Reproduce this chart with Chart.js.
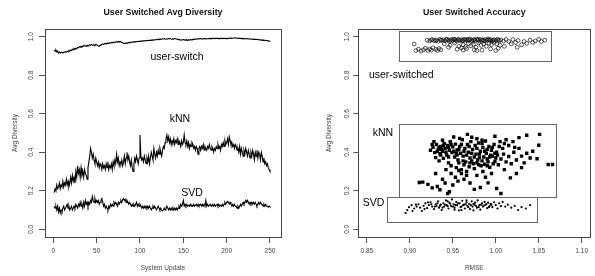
<!DOCTYPE html>
<html><head><meta charset="utf-8">
<script src="https://cdn.jsdelivr.net/npm/chart.js@4/dist/chart.umd.min.js"></script>
<style>
html,body{margin:0;padding:0;background:#fff;}
#wrap{position:relative;width:595px;height:276px;overflow:hidden;background:#fff;}
.c{position:absolute;top:0;height:276px;}
#c1{left:0;width:298px;} #c2{left:298px;width:297px;}
</style></head><body>
<div id="wrap"><div class="c" id="c1"><canvas id="a"></canvas></div><div class="c" id="c2"><canvas id="b"></canvas></div></div>
<script>
// ---------- Data: left panel (Avg Diversity per system update) ----------
const systemUpdates = Array.from({length: 250}, (_, i) => i + 1);
const userSwitchLine = [
0.93,0.925,0.93,0.92,0.925,0.915,0.92,0.915,0.92,0.918,
0.915,0.92,0.918,0.922,0.92,0.925,0.922,0.928,0.925,0.93,
0.928,0.935,0.932,0.938,0.935,0.94,0.937,0.945,0.942,0.948,
0.945,0.95,0.947,0.952,0.95,0.955,0.952,0.95,0.955,0.952,
0.955,0.958,0.955,0.96,0.957,0.955,0.958,0.955,0.96,0.958,
0.955,0.952,0.95,0.955,0.958,0.96,0.962,0.96,0.963,0.965,
0.962,0.965,0.967,0.965,0.968,0.966,0.97,0.968,0.97,0.972,
0.97,0.972,0.975,0.972,0.974,0.972,0.975,0.973,0.97,0.968,
0.966,0.965,0.967,0.965,0.968,0.967,0.97,0.968,0.97,0.972,
0.971,0.973,0.972,0.974,0.973,0.975,0.974,0.976,0.975,0.977,
0.976,0.978,0.977,0.979,0.978,0.98,0.979,0.98,0.979,0.981,
0.98,0.982,0.981,0.983,0.982,0.984,0.983,0.985,0.984,0.986,
0.985,0.987,0.986,0.988,0.987,0.989,0.988,0.99,0.988,0.987,
0.989,0.988,0.99,0.989,0.99,0.988,0.987,0.989,0.988,0.99,
0.989,0.988,0.986,0.984,0.986,0.984,0.982,0.984,0.983,0.985,
0.984,0.982,0.985,0.983,0.98,0.984,0.982,0.985,0.983,0.986,
0.985,0.987,0.986,0.988,0.987,0.989,0.988,0.99,0.989,0.99,
0.988,0.989,0.988,0.99,0.989,0.99,0.988,0.989,0.99,0.991,
0.99,0.991,0.99,0.992,0.991,0.99,0.991,0.992,0.991,0.99,
0.991,0.99,0.992,0.991,0.99,0.991,0.992,0.991,0.99,0.991,
0.99,0.991,0.992,0.993,0.992,0.993,0.992,0.993,0.994,0.993,
0.992,0.993,0.992,0.991,0.992,0.991,0.99,0.991,0.99,0.989,
0.99,0.989,0.99,0.989,0.988,0.989,0.988,0.987,0.988,0.987,
0.986,0.987,0.986,0.985,0.986,0.984,0.985,0.983,0.984,0.982,
0.983,0.981,0.982,0.98,0.981,0.979,0.98,0.978,0.977,0.978];
const knnLine = [
0.19,0.21,0.20,0.23,0.21,0.22,0.24,0.21,0.23,0.22,
0.25,0.22,0.24,0.23,0.26,0.23,0.25,0.22,0.24,0.27,
0.24,0.28,0.25,0.27,0.24,0.30,0.27,0.33,0.29,0.31,
0.27,0.32,0.28,0.30,0.27,0.31,0.29,0.28,0.26,0.32,
0.35,0.38,0.42,0.40,0.37,0.39,0.36,0.34,0.37,0.35,
0.33,0.35,0.32,0.34,0.33,0.31,0.34,0.32,0.33,0.31,
0.34,0.32,0.35,0.31,0.33,0.32,0.34,0.31,0.35,0.33,
0.36,0.34,0.39,0.35,0.37,0.33,0.35,0.34,0.36,0.33,
0.35,0.38,0.34,0.37,0.40,0.36,0.38,0.35,0.33,0.36,
0.32,0.30,0.34,0.37,0.35,0.38,0.36,0.34,0.37,0.49,
0.38,0.36,0.37,0.35,0.38,0.36,0.34,0.37,0.35,0.38,
0.34,0.37,0.40,0.38,0.36,0.42,0.39,0.37,0.40,0.38,
0.41,0.39,0.42,0.40,0.38,0.41,0.43,0.42,0.45,0.47,
0.49,0.46,0.48,0.45,0.47,0.44,0.46,0.45,0.47,0.44,
0.46,0.45,0.47,0.44,0.46,0.45,0.43,0.46,0.44,0.45,
0.49,0.45,0.44,0.46,0.43,0.45,0.42,0.44,0.43,0.45,
0.44,0.42,0.43,0.41,0.43,0.42,0.39,0.42,0.43,0.41,
0.43,0.42,0.44,0.41,0.43,0.42,0.41,0.43,0.42,0.44,
0.42,0.41,0.43,0.42,0.40,0.42,0.41,0.43,0.42,0.44,
0.42,0.43,0.41,0.44,0.43,0.45,0.43,0.46,0.44,0.45,
0.47,0.44,0.48,0.46,0.44,0.45,0.43,0.44,0.42,0.44,
0.43,0.41,0.42,0.40,0.43,0.39,0.42,0.40,0.38,0.41,
0.39,0.42,0.40,0.38,0.41,0.39,0.37,0.40,0.38,0.41,
0.39,0.36,0.40,0.38,0.41,0.37,0.40,0.39,0.36,0.40,
0.38,0.35,0.37,0.34,0.35,0.33,0.34,0.32,0.31,0.30];
const svdLine = [
0.12,0.11,0.12,0.10,0.12,0.09,0.11,0.085,0.10,0.09,
0.11,0.12,0.10,0.11,0.12,0.13,0.11,0.12,0.10,0.11,
0.12,0.10,0.11,0.12,0.11,0.13,0.12,0.11,0.13,0.12,
0.14,0.12,0.13,0.11,0.14,0.12,0.15,0.13,0.14,0.12,
0.14,0.13,0.15,0.14,0.17,0.15,0.14,0.16,0.14,0.15,
0.14,0.15,0.13,0.14,0.15,0.16,0.14,0.12,0.13,0.11,
0.12,0.11,0.10,0.12,0.11,0.13,0.12,0.13,0.12,0.14,
0.13,0.14,0.13,0.12,0.14,0.13,0.14,0.15,0.14,0.155,
0.16,0.15,0.155,0.14,0.15,0.14,0.13,0.14,0.13,0.12,
0.13,0.12,0.13,0.12,0.13,0.14,0.12,0.13,0.12,0.13,
0.12,0.11,0.12,0.11,0.12,0.11,0.12,0.11,0.12,0.11,
0.12,0.11,0.10,0.11,0.12,0.11,0.12,0.11,0.10,0.11,
0.12,0.11,0.10,0.11,0.10,0.095,0.10,0.11,0.10,0.11,
0.12,0.11,0.10,0.11,0.10,0.11,0.10,0.11,0.10,0.11,
0.10,0.11,0.10,0.11,0.12,0.11,0.13,0.12,0.13,0.15,
0.12,0.13,0.12,0.13,0.12,0.125,0.12,0.13,0.12,0.125,
0.12,0.13,0.12,0.125,0.13,0.12,0.13,0.12,0.125,0.13,
0.12,0.13,0.12,0.13,0.12,0.15,0.12,0.13,0.12,0.125,
0.13,0.12,0.125,0.13,0.12,0.13,0.12,0.125,0.13,0.12,
0.13,0.12,0.125,0.12,0.13,0.12,0.13,0.14,0.13,0.14,
0.145,0.14,0.13,0.14,0.13,0.12,0.13,0.12,0.13,0.12,
0.12,0.11,0.12,0.11,0.12,0.13,0.12,0.13,0.14,0.13,
0.14,0.15,0.14,0.15,0.14,0.13,0.14,0.13,0.14,0.13,
0.14,0.13,0.14,0.13,0.12,0.13,0.14,0.13,0.14,0.13,
0.13,0.12,0.13,0.12,0.13,0.12,0.12,0.115,0.12,0.115];

// ---------- Data: right panel (RMSE vs Avg Diversity) ----------
const userSwitchedPts = [
[0.905,0.962],[0.907,0.928],[0.910,0.935],[0.913,0.925],[0.916,0.932],[0.918,0.940],[0.921,0.928],[0.923,0.936],[0.925,0.930],[0.927,0.942],[0.930,0.934],[0.932,0.928],[0.934,0.938],[0.936,0.932],
[0.920,0.982],[0.923,0.978],[0.926,0.985],[0.928,0.980],[0.931,0.983],[0.933,0.976],[0.935,0.986],[0.937,0.981],[0.939,0.984],[0.941,0.979],[0.943,0.987],[0.945,0.982],[0.946,0.975],[0.948,0.985],[0.950,0.980],[0.951,0.988],[0.953,0.983],[0.955,0.977],[0.956,0.986],[0.958,0.981],[0.960,0.984],[0.961,0.978],[0.963,0.987],[0.964,0.982],[0.966,0.985],[0.967,0.979],[0.969,0.983],[0.970,0.988],[0.972,0.981],[0.973,0.976],[0.975,0.985],[0.976,0.980],[0.978,0.987],[0.979,0.982],[0.981,0.978],[0.982,0.986],[0.984,0.981],[0.985,0.984],[0.987,0.977],[0.988,0.985],[0.990,0.982],[0.991,0.988],[0.993,0.980],[0.994,0.985],[0.996,0.978],[0.998,0.984],[1.000,0.981],[1.002,0.986],[1.004,0.979],[1.006,0.983],[1.009,0.977],[1.012,0.985],
[0.925,0.983],[0.930,0.979],[0.936,0.982],[0.942,0.984],[0.947,0.980],[0.952,0.985],[0.957,0.983],[0.962,0.980],[0.968,0.986],[0.974,0.983],[0.980,0.985],[0.986,0.980],[0.992,0.984],[0.997,0.982],[1.003,0.983],
[0.940,0.962],[0.947,0.955],[0.952,0.968],[0.957,0.950],[0.960,0.942],[0.962,0.958],[0.965,0.948],[0.968,0.965],[0.971,0.952],[0.974,0.960],[0.977,0.945],[0.980,0.968],[0.983,0.955],[0.986,0.962],[0.989,0.950],[0.992,0.965],[0.995,0.958],[0.998,0.970],[1.001,0.962],[1.005,0.955],[0.955,0.935],[0.962,0.930],[0.966,0.938],[0.975,0.932],[0.978,0.928],[0.984,0.930],[0.994,0.936],[1.000,0.928],[1.003,0.940],[0.945,0.945],
[1.015,0.975],[1.018,0.962],[1.020,0.985],[1.023,0.970],[1.026,0.980],[1.030,0.958],[1.033,0.975],[1.036,0.965],[1.040,0.982],[1.043,0.970],[1.046,0.978],[1.050,0.986],[1.053,0.975],[1.057,0.982],[1.010,0.950],[1.025,0.945]];
const knnPts = [
[0.924,0.410],[0.927,0.425],[0.929,0.398],[0.931,0.440],[0.933,0.415],[0.935,0.392],[0.936,0.430],[0.938,0.405],[0.940,0.445],[0.941,0.420],[0.943,0.385],[0.944,0.435],[0.946,0.410],[0.947,0.455],[0.949,0.398],[0.950,0.428],[0.952,0.375],[0.953,0.442],[0.955,0.412],[0.956,0.360],[0.958,0.430],[0.959,0.395],[0.961,0.465],[0.962,0.380],[0.964,0.420],[0.965,0.350],[0.967,0.440],[0.968,0.400],[0.970,0.370],[0.971,0.455],[0.973,0.415],[0.974,0.340],[0.976,0.435],[0.977,0.390],[0.979,0.360],[0.980,0.448],[0.982,0.405],[0.983,0.330],[0.985,0.425],[0.986,0.375],[0.988,0.458],[0.989,0.395],[0.991,0.350],[0.992,0.430],[0.994,0.385],[0.995,0.410],[0.997,0.340],[0.998,0.440],[1.000,0.370],[1.001,0.400],
[0.926,0.440],[0.928,0.455],[0.932,0.405],[0.934,0.425],[0.937,0.415],[0.939,0.435],[0.942,0.400],[0.945,0.425],[0.948,0.440],[0.951,0.405],[0.954,0.395],[0.957,0.415],[0.960,0.440],[0.963,0.405],[0.966,0.385],[0.969,0.430],[0.972,0.395],[0.975,0.375],[0.978,0.420],[0.981,0.390],[0.984,0.445],[0.987,0.405],[0.990,0.415],[0.993,0.375],[0.996,0.425],[0.999,0.395],[1.002,0.385],[1.004,0.430],[0.962,0.355],[0.970,0.345],[0.980,0.335],[0.990,0.330],[0.955,0.385],[0.945,0.375],[0.936,0.385],
[0.930,0.372],[0.934,0.355],[0.939,0.368],[0.945,0.345],[0.948,0.330],[0.954,0.320],[0.957,0.345],[0.960,0.310],[0.963,0.335],[0.966,0.300],[0.969,0.325],[0.972,0.355],[0.975,0.315],[0.978,0.345],[0.981,0.372],[0.984,0.355],[0.987,0.338],[0.990,0.365],[0.993,0.322],[0.996,0.380],[0.999,0.352],[1.003,0.335],[1.006,0.365],[1.009,0.390],[1.012,0.350],[1.015,0.378],[1.018,0.340],[1.021,0.400],[1.024,0.360],[1.027,0.420],[1.030,0.380],[1.033,0.345],[1.036,0.395],[1.040,0.370],[1.043,0.405],
[0.938,0.462],[0.951,0.479],[0.958,0.472],[0.967,0.493],[0.972,0.478],[0.978,0.470],[0.984,0.462],[0.999,0.483],[1.005,0.455],[1.010,0.445],[1.015,0.435],[1.020,0.455],[1.027,0.476],[1.036,0.488],[1.051,0.493],[1.050,0.436],[1.048,0.366],[1.061,0.336],[1.066,0.336],[1.022,0.425],[1.008,0.420],[1.012,0.465],
[0.911,0.243],[0.915,0.245],[0.921,0.233],[0.926,0.215],[0.930,0.290],[0.932,0.222],[0.935,0.205],[0.938,0.260],[0.941,0.240],[0.944,0.186],[0.946,0.195],[0.950,0.230],[0.953,0.270],[0.956,0.250],[0.960,0.290],[0.963,0.260],[0.966,0.280],[0.970,0.240],[0.975,0.207],[0.978,0.280],[0.982,0.217],[0.985,0.300],[0.988,0.270],[0.991,0.241],[0.995,0.290],[1.001,0.212],[1.006,0.186],[1.010,0.310],[1.017,0.267],[1.024,0.290],[1.030,0.320],[0.942,0.310],[0.948,0.290],[0.957,0.305]];
const svdPts = [
[0.895,0.085],[0.897,0.100],[0.899,0.115],[0.902,0.125],[0.905,0.108],[0.908,0.118],[0.910,0.130],[0.912,0.112],[0.914,0.095],[0.916,0.122],[0.918,0.135],[0.920,0.110],[0.922,0.125],[0.924,0.140],[0.926,0.118],[0.928,0.105],[0.930,0.130],[0.931,0.120],[0.933,0.145],[0.934,0.112],[0.936,0.128],[0.937,0.100],[0.939,0.135],[0.940,0.118],[0.942,0.150],[0.943,0.125],[0.945,0.108],[0.946,0.138],[0.948,0.120],[0.949,0.155],[0.951,0.130],[0.952,0.112],[0.954,0.142],[0.955,0.125],[0.957,0.098],[0.958,0.135],[0.960,0.118],[0.961,0.148],[0.963,0.128],[0.964,0.108],[0.966,0.140],[0.967,0.122],[0.969,0.132],[0.970,0.105],[0.972,0.145],[0.973,0.118],[0.975,0.128],[0.976,0.138],[0.978,0.112],[0.979,0.150],[0.981,0.125],[0.982,0.102],[0.984,0.135],[0.985,0.118],[0.987,0.142],[0.988,0.128],[0.990,0.110],[0.991,0.138],[0.993,0.122],[0.994,0.132],[0.996,0.115],[0.998,0.140],[1.000,0.125],[1.002,0.108],[1.004,0.135],[1.006,0.120],[1.008,0.142],[1.011,0.118],[1.014,0.128],[1.018,0.112],[1.022,0.122],[1.026,0.100],[1.030,0.115],[1.035,0.108],[1.040,0.125],
[0.925,0.130],[0.929,0.118],[0.932,0.135],[0.935,0.122],[0.938,0.112],[0.941,0.128],[0.944,0.120],[0.947,0.132],[0.950,0.118],[0.953,0.125],[0.956,0.135],[0.959,0.115],[0.962,0.125],[0.965,0.130],[0.968,0.115],[0.971,0.125],[0.974,0.132],[0.977,0.122],[0.980,0.115],[0.983,0.128],[0.986,0.122],[0.989,0.130],[0.992,0.115],[0.995,0.128],[0.944,0.145],[0.952,0.102],[0.960,0.100],[0.966,0.150],[0.974,0.098],[0.917,0.105],[0.921,0.140],[0.907,0.128],[0.903,0.095]];

// ---------- Tick labels ----------
const leftXTicks = [0, 50, 100, 150, 200, 250];
const rightXTicks = [0.85, 0.90, 0.95, 1.00, 1.05, 1.10];
const yTicks = [0.0, 0.2, 0.4, 0.6, 0.8, 1.0];

// ---------- Rendering ----------
const FONT = "'Liberation Sans', Arial, sans-serif";
Chart.defaults.font.family = FONT;
Chart.defaults.color = '#333';

function framePlugin(){ return {id:'frame', afterDraw(ch){
  const a = ch.chartArea, c = ch.ctx; c.save(); c.strokeStyle = '#444'; c.lineWidth = 1;
  c.strokeRect(Math.round(a.left)+0.5, Math.round(a.top)+0.5, Math.round(a.right-a.left), Math.round(a.bottom-a.top));
  c.restore(); }}; }

function notesPlugin(notes, boxes){ return {id:'notes', afterDatasetsDraw(ch){
  const c = ch.ctx, xs = ch.scales.x, ys = ch.scales.y; c.save();
  boxes.forEach(b => {
    const x0 = xs.getPixelForValue(b.x0), x1 = xs.getPixelForValue(b.x1);
    const y0 = ys.getPixelForValue(b.y1), y1 = ys.getPixelForValue(b.y0);
    c.strokeStyle = '#666'; c.lineWidth = 1;
    c.strokeRect(Math.round(x0)+0.5, Math.round(y0)+0.5, Math.round(x1-x0), Math.round(y1-y0));
  });
  c.fillStyle = '#000'; c.font = '10.5px ' + FONT; c.textAlign = 'center'; c.textBaseline = 'middle';
  notes.forEach(t => c.fillText(t.text, xs.getPixelForValue(t.x), ys.getPixelForValue(t.y)));
  c.restore(); }}; }

function makeScales(o){
  return {
    x: {type:'linear', min:o.xmin, max:o.xmax,
      afterBuildTicks: s => { s.ticks = o.xticks.map(v => ({value:v})); },
      afterFit: s => { s.height = 39; },
      grid: {drawOnChartArea:false, drawTicks:true, tickLength:6, color:'#555', tickColor:'#555'},
      border: {display:false},
      ticks: {font:{size:6.5}, padding:4.8, color:'#444', maxRotation:0, autoSkip:false, callback: o.xfmt},
      title: {display:true, text:o.xtitle, font:{size:6.5}, color:'#444', padding:{top:0, bottom:4.1}}},
    y: {type:'linear', min:-0.04, max:1.04,
      afterBuildTicks: s => { s.ticks = yTicks.map(v => ({value:v})); },
      afterFit: s => { s.width = o.yw; },
      grid: {drawOnChartArea:false, drawTicks:true, tickLength:o.ytl, color:'#555', tickColor:'#555'},
      border: {display:false},
      ticks: {font:{size:6.5}, padding:o.ypad, color:'#444', minRotation:90, maxRotation:90, crossAlign:'center', autoSkip:false, callback: v => Number(v).toFixed(1)},
      title: {display:true, text:'Avg Diversity', font:{size:6.5}, color:'#444', padding:{top:o.ytitle, bottom:0}}}
  };
}

const common = (title, padRight) => ({
  responsive:true, maintainAspectRatio:false, animation:false, devicePixelRatio:1,
  layout:{padding:{top:0, right:padRight, bottom:0, left:0}},
  plugins:{legend:{display:false}, tooltip:{enabled:false},
    title:{display:true, text:title, fullSize:false, color:'#111', font:{size:8.8, weight:'bold'}, padding:{top:7, bottom:11.4}}}
});

new Chart(document.getElementById('a'), {
  type:'line',
  data:{datasets:[
    {label:'user-switch', data: systemUpdates.map((u,i)=>({x:u, y:userSwitchLine[i]})), borderColor:'#000', borderWidth:1.1, pointRadius:0, tension:0},
    {label:'kNN', data: systemUpdates.map((u,i)=>({x:u, y:knnLine[i]})), borderColor:'#000', borderWidth:1.1, pointRadius:0, tension:0},
    {label:'SVD', data: systemUpdates.map((u,i)=>({x:u, y:svdLine[i]})), borderColor:'#000', borderWidth:1.1, pointRadius:0, tension:0}
  ]},
  options: Object.assign(common('User Switched Avg Diversity', 17), {
    scales: makeScales({xmin:-9.6, xmax:262.7, xticks:leftXTicks, xfmt: v => String(v), xtitle:'System Update', yw:45, ytl:6, ypad:3.6, ytitle:11.6})
  }),
  plugins:[framePlugin(), notesPlugin([
    {text:'user-switch', x:142.7, y:0.895}, {text:'kNN', x:146, y:0.572}, {text:'SVD', x:160, y:0.188}], [])]
});

new Chart(document.getElementById('b'), {
  type:'scatter',
  data:{datasets:[
    {label:'user-switched', data: userSwitchedPts.map(p=>({x:p[0], y:p[1]})), pointStyle:'circle', pointRadius:1.9, borderWidth:0.7, borderColor:'#111', backgroundColor:'rgba(0,0,0,0)'},
    {label:'kNN', data: knnPts.map(p=>({x:p[0], y:p[1]})), pointStyle:'rect', pointRadius:2.4, borderWidth:0, backgroundColor:'#000'},
    {label:'SVD', data: svdPts.map(p=>({x:p[0], y:p[1]})), pointStyle:'circle', pointRadius:1.1, borderWidth:0, backgroundColor:'#000'}
  ]},
  options: Object.assign(common('User Switched Accuracy', 1.7), {
    scales: makeScales({xmin:0.84, xmax:1.11, xticks:rightXTicks, xfmt: v => Number(v).toFixed(2), xtitle:'RMSE', yw:60.3, ytl:5, ypad:1.2, ytitle:27.6})
  }),
  plugins:[framePlugin(), notesPlugin([
    {text:'user-switched', x:0.890, y:0.80}, {text:'kNN', x:0.8687, y:0.499}, {text:'SVD', x:0.8578, y:0.136}],
    [{x0:0.8875, x1:1.064, y0:0.878, y1:1.032}, {x0:0.8868, x1:1.070, y0:0.169, y1:0.546}, {x0:0.873, x1:1.047, y0:0.039, y1:0.169}])]
});
</script>
</body></html>
